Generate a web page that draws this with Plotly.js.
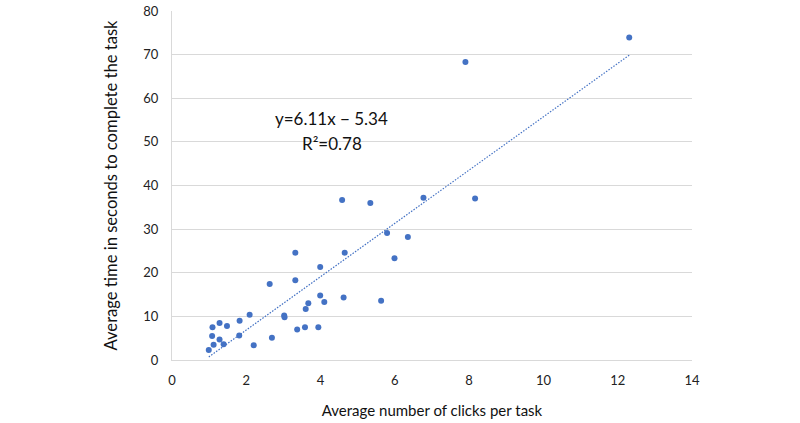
<!DOCTYPE html>
<html>
<head>
<meta charset="utf-8">
<script src="https://cdn.plot.ly/plotly-3.0.1.min.js"></script>
<style>html,body{margin:0;padding:0;background:#fff;}#chart{width:800px;height:423px;}</style>
</head>
<body>
<div id="chart"></div>
<script>
// Average number of clicks per task (x) and average time in seconds (y)
const clicks = [7.90, 12.31, 4.58, 5.34, 6.77, 8.16, 5.79, 6.35, 3.32, 4.65, 5.99, 3.99, 2.63, 3.32, 3.99, 3.67, 4.10, 3.60, 4.62, 5.63, 2.09, 3.02, 3.03, 1.82, 1.28, 1.48, 1.09, 3.37, 3.58, 3.94, 1.08, 1.81, 1.28, 2.69, 1.12, 1.39, 2.20, 0.99];
const times  = [68.3, 73.9, 36.7, 36.0, 37.2, 37.0, 29.1, 28.2, 24.6, 24.6, 23.3, 21.3, 17.4, 18.3, 14.8, 13.0, 13.3, 11.7, 14.3, 13.6, 10.4, 10.2, 9.8, 9.0, 8.5, 7.8, 7.5, 7.0, 7.5, 7.5, 5.5, 5.6, 4.7, 5.1, 3.5, 3.6, 3.4, 2.3];
// Linear fit reported on the chart
const slope = 6.11;
const intercept = -5.34;
const rSquared = 0.78;
const xTicks = [0, 2, 4, 6, 8, 10, 12, 14];
const yTicks = [0, 10, 20, 30, 40, 50, 60, 70, 80];

const xMin = Math.min(...clicks), xMax = Math.max(...clicks);
const trendX = [xMin, xMax];
const trendY = trendX.map(v => slope * v + intercept);

const blue = '#4472C4';
const font = 'Lato, "Open Sans", sans-serif';

const data = [
  {x: trendX, y: trendY, type: 'scatter', mode: 'lines',
   line: {color: blue, width: 1.2, dash: '1.5px,1.5px'}, hoverinfo: 'skip'},
  {x: clicks, y: times, type: 'scatter', mode: 'markers',
   marker: {color: blue, size: 6}}
];

const layout = {
  width: 800, height: 423,
  margin: {l: 172, r: 108, t: 11, b: 63},
  showlegend: false,
  paper_bgcolor: '#fff', plot_bgcolor: '#fff',
  font: {family: font, color: '#222'},
  xaxis: {
    range: [0, 14], tickvals: xTicks, ticktext: xTicks.map(String),
    showgrid: false, zeroline: false, showline: true, linecolor: '#d9d9d9', linewidth: 1,
    ticks: '', tickfont: {size: 13, color: '#222', family: font}, ticklabelstandoff: 8,
    title: {text: 'Average number of clicks per task', font: {size: 15, color: '#111', family: font}, standoff: 18}
  },
  yaxis: {
    range: [0, 80], tickvals: yTicks, ticktext: yTicks.map(String),
    showgrid: true, gridcolor: '#d9d9d9', gridwidth: 1, zeroline: false,
    showline: true, linecolor: '#d9d9d9', linewidth: 1,
    ticks: '', tickfont: {size: 13, color: '#222', family: font}, ticklabelstandoff: 10,
    title: {text: 'Average time in seconds to complete the task', font: {size: 16.6, color: '#111', family: font}, standoff: 21}
  },
  annotations: [
    {x: 4.3, y: 55.4, xref: 'x', yref: 'y', showarrow: false,
     text: 'y=' + slope.toFixed(2) + 'x \u2212 ' + Math.abs(intercept).toFixed(2),
     font: {size: 17, color: '#111', family: font}},
    {x: 4.3, y: 49.6, xref: 'x', yref: 'y', showarrow: false,
     text: 'R\u00b2=' + rSquared.toFixed(2),
     font: {size: 17, color: '#111', family: font}}
  ]
};

Plotly.newPlot('chart', data, layout, {displayModeBar: false, staticPlot: true});
</script>
</body>
</html>
